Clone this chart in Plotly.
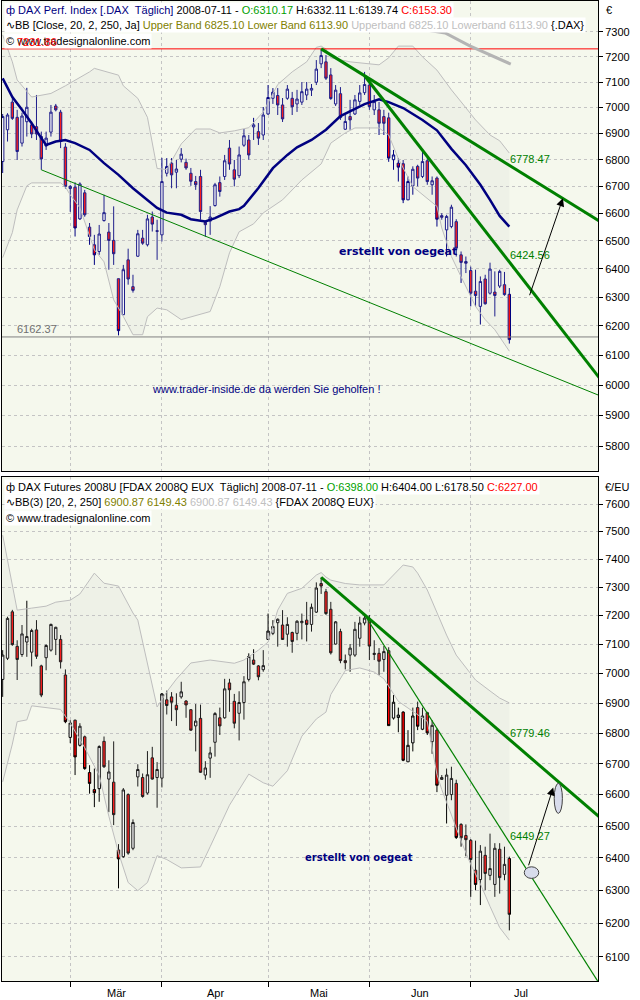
import math
import plotly.graph_objects as go

# ---------------- x axis (trading-day index) ----------------
N = 106
idx = list(range(N))
month_ticks = [14, 33, 55, 76, 97]
month_names = ["Mär", "Apr", "Mai", "Jun", "Jul"]
month_centers = [23.5, 44, 65.5, 86.5, 107.5]

# ---------------- DAX (top panel) ----------------
dax_open = [6793, 6914, 7021, 6962, 6863, 6945, 6933, 6926, 6888, 6852, 6905, 7006, 6982, 6848, 6692, 6697, 6580, 6676, 6550, 6486,
            6462, 6574, 6532, 6502, 6365, 6239, 6432, 6337, 6445, 6510, 6486, 6587, 6537, 6522, 6749, 6787, 6753, 6802, 6790, 6749,
            6718, 6737, 6567, 6572, 6629, 6714, 6737, 6844, 6762, 6740, 6855, 6875, 6925, 6907, 6894, 6975, 7036, 7047, 7010, 7036,
            7036, 7014, 7021, 7049, 7068, 7099, 7172, 7180, 7128, 7014, 7054, 6916, 6965, 6975, 7024, 7058, 7088, 6991, 6991, 6965,
            6960, 6800, 6787, 6785, 6650, 6702, 6775, 6737, 6796, 6706, 6731, 6592, 6540, 6552, 6570, 6450, 6426, 6394, 6321, 6268,
            6364, 6314, 6318, 6339, 6344, 6310.17]
dax_high = [6975, 6978, 7042, 6991, 6980, 7077, 6946, 7049, 6907, 6907, 7010, 7014, 6991, 6863, 6705, 6715, 6715, 6687, 6565, 6522,
            6558, 6669, 6565, 6626, 6365, 6414, 6472, 6379, 6540, 6540, 6595, 6607, 6577, 6807, 6806, 6806, 6799, 6844, 6804, 6769,
            6739, 6762, 6570, 6627, 6713, 6737, 6818, 6875, 6799, 6850, 6917, 6894, 6960, 6940, 7002, 7088, 7076, 7076, 7037, 7088,
            7061, 7069, 7100, 7100, 7092, 7187, 7231.86, 7207, 7155, 7088, 7080, 6971, 7030, 7049, 7088, 7140, 7116, 7049, 7022, 6991,
            6980, 6837, 6806, 6799, 6737, 6775, 6781, 6831, 6806, 6737, 6737, 6601, 6595, 6632, 6579, 6462, 6444, 6408, 6397, 6373,
            6379, 6422, 6391, 6397, 6389, 6332.11]
dax_low = [6750, 6869, 6952, 6799, 6850, 6888, 6882, 6875, 6762, 6837, 6888, 6985, 6844, 6692, 6606, 6516, 6577, 6588, 6486, 6414,
           6450, 6570, 6397, 6414, 6167.82, 6239, 6344, 6316, 6443, 6486, 6480, 6534, 6432, 6498, 6737, 6693, 6693, 6790, 6762, 6702,
           6687, 6577, 6515, 6522, 6625, 6662, 6724, 6762, 6700, 6731, 6849, 6800, 6875, 6856, 6875, 6971, 7014, 6971, 6944, 7030,
           6971, 6983, 7010, 7029, 7045, 7088, 7155, 7108, 7030, 7006, 6952, 6914, 6914, 6971, 7010, 7049, 6991, 6971, 6894, 6894,
           6792, 6762, 6718, 6638, 6650, 6669, 6700, 6731, 6706, 6669, 6552, 6577, 6444, 6546, 6444, 6350, 6385, 6268, 6268, 6205,
           6274, 6309, 6233, 6332, 6305, 6139.74]
dax_close = [6965, 6971, 6958, 6831, 6967, 7001, 6898, 6898, 6803, 6882, 6982, 6991, 6869, 6700, 6700, 6547, 6709, 6595, 6516, 6450,
             6525, 6603, 6502, 6454, 6184, 6397, 6364, 6324, 6526, 6492, 6580, 6561, 6535, 6718, 6774, 6743, 6765, 6821, 6769, 6719,
             6706, 6607, 6559, 6587, 6706, 6681, 6796, 6784, 6727, 6818, 6891, 6818, 6933, 6882, 6971, 7039, 7060, 7010, 6956, 7072,
             7003, 7033, 7062, 7072, 7075, 7151, 7205, 7115, 7035, 7068, 6961, 6946, 6952, 7030, 7057, 7090, 7004, 7023, 6939, 6939,
             6806, 6818, 6772, 6650, 6718, 6764, 6731, 6793, 6718, 6721, 6579, 6586, 6589, 6623, 6474, 6423, 6420, 6314, 6306, 6355,
             6277, 6399, 6306, 6391, 6309, 6153.30]

dax_upper_idx = [0, 2, 3, 6, 10, 13, 18, 19, 24, 25, 28, 30, 32, 34, 37, 40, 43, 45, 48, 51, 54, 57, 60, 63, 65, 66, 67, 68, 72, 78,
                 80, 82, 85, 87, 90, 93, 96, 98, 101, 103, 105]
dax_upper = [7288, 7180, 7108, 7041, 7055, 7085, 7140, 7154, 7127, 7085, 7036, 6962, 6767, 6763, 6860, 6917, 6917, 6902, 6910, 6922,
             6983, 7090, 7140, 7180, 7238, 7243, 7231, 7196, 7180, 7168, 7196, 7243, 7243, 7200, 7147, 7069, 6999, 6952, 6894, 6872,
             6825.10]
dax_lower_idx = [0, 2, 3, 5, 6, 12, 13, 14, 16, 18, 19, 21, 22, 23, 25, 27, 29, 30, 32, 34, 37, 40, 43, 45, 47, 49, 52, 54, 58, 62,
                 66, 68, 71, 73, 78, 80, 82, 85, 88, 90, 91, 93, 95, 98, 100, 102, 105]
dax_lower = [6440, 6530, 6613, 6702, 6713, 6713, 6698, 6668, 6621, 6516, 6468, 6425, 6361, 6291, 6233, 6170, 6170, 6232, 6262, 6256,
             6222, 6236, 6250, 6337, 6457, 6533, 6562, 6602, 6650, 6724, 6784, 6863, 6902, 6921, 6921, 6894, 6804, 6699, 6656, 6626,
             6547, 6444, 6372, 6268, 6222, 6187, 6113.90]
dax_ma_idx = [0, 2, 4, 6, 8, 9, 11, 13, 15, 18, 21, 24, 27, 30, 32, 34, 37, 39, 42, 44, 47, 49, 50, 53, 56, 59, 61, 64, 67, 70,
              73, 75, 78, 80, 83, 86, 87, 90, 93, 96, 99, 101, 103, 105]
dax_ma = [7114, 7041, 6991, 6939, 6882, 6856, 6869, 6875, 6863, 6837, 6787, 6743, 6693, 6650, 6620, 6603, 6595, 6579, 6571, 6583,
          6607, 6616, 6628, 6694, 6768, 6818, 6847, 6875, 6914, 6967, 6993, 7013, 7032, 7021, 6998, 6965, 6952, 6912, 6841, 6779,
          6706, 6650, 6591, 6552]

dax_lineA_idx = [66, 105, 124]
dax_lineA = [7231.86, 6778.47, 6568]
dax_lineB_idx = [75, 105, 124]
dax_lineB = [7124.6, 6424.56, 6017]
dax_support_idx = [8, 124]
dax_support = [6762, 5963]
dax_top_level = 7231.86
dax_bottom_level = 6162.37
dax_gray_idx = [86.5, 91.7, 96.8, 101.0, 105.3]
dax_gray = [7312, 7296, 7244, 7207, 7171]
dax_ticks = list(range(5800, 7301, 100))

# ---------------- FDAX (bottom panel) ----------------
fut_open = [6980, 7052, 7213, 7093, 7065, 7108, 7073, 7150, 7026, 7054, 7080, 7117, 7117, 6995, 6786, 6843, 6760, 6788, 6671, 6616,
            6619, 6773, 6650, 6640, 6425, 6404, 6600, 6430, 6657, 6655, 6605, 6719, 6655, 6653, 6911, 6921, 6893, 6921, 6907, 6878,
            6824, 6849, 6663, 6718, 6770, 6851, 6851, 6968, 6906, 6866, 6902, 6980, 7046, 7026, 7013, 7117, 7138, 7175, 7167, 7135,
            7141, 7138, 7175, 7184, 7169, 7212, 7313, 7284, 7222, 7101, 7144, 7044, 7063, 7063, 7121, 7174, 7187, 7065, 7069, 7048,
            7078, 6850, 6852, 6870, 6706, 6768, 6885, 6813, 6868, 6772, 6810, 6649, 6598, 6600, 6636, 6505, 6470, 6455, 6362, 6333,
            6408, 6346, 6318, 6427, 6349, 6398.00]
fut_high = [7080, 7196, 7220, 7114, 7167, 7252, 7154, 7184, 7030, 7100, 7172, 7161, 7132, 7014, 6843, 6845, 6833, 6792, 6695, 6684,
            6760, 6789, 6711, 6773, 6443, 6621, 6604, 6521, 6698, 6668, 6741, 6755, 6705, 6934, 6942, 6937, 6933, 6972, 6910, 6880,
            6897, 6895, 6708, 6755, 6870, 6885, 6982, 6982, 6931, 6940, 6991, 7069, 7083, 7029, 7080, 7207, 7184, 7190, 7219, 7194,
            7144, 7184, 7207, 7248, 7242, 7317, 7335, 7294, 7248, 7181, 7154, 7065, 7101, 7178, 7196, 7202, 7202, 7114, 7087, 7094,
            7090, 6927, 6885, 6873, 6810, 6885, 6905, 6885, 6871, 6843, 6816, 6663, 6684, 6690, 6648, 6509, 6505, 6459, 6454, 6440,
            6435, 6476, 6446, 6446, 6435, 6404.00]
fut_low = [6921, 7046, 7095, 6978, 7057, 7057, 7024, 7050, 6920, 7011, 7075, 7063, 7017, 6833, 6767, 6663, 6756, 6680, 6603, 6560,
           6577, 6686, 6544, 6503, 6306, 6400, 6410, 6424, 6626, 6590, 6600, 6648, 6558, 6623, 6862, 6840, 6824, 6915, 6851, 6808,
           6740, 6670, 6648, 6654, 6723, 6794, 6848, 6871, 6816, 6776, 6845, 6973, 7029, 6977, 7006, 7115, 7132, 7092, 7115, 7092,
           7071, 7114, 7117, 7110, 7144, 7209, 7276, 7202, 7065, 7099, 7035, 7014, 7006, 7057, 7092, 7166, 7046, 7046, 6995, 7006,
           6825, 6845, 6803, 6708, 6706, 6740, 6810, 6810, 6794, 6732, 6608, 6648, 6508, 6582, 6459, 6435, 6405, 6280, 6300, 6255,
           6300, 6331, 6280, 6290, 6331, 6178.50]
fut_close = [7063, 7190, 7099, 7048, 7136, 7127, 7148, 7059, 6927, 7096, 7169, 7159, 7040, 6838, 6834, 6722, 6823, 6684, 6636, 6606,
             6756, 6690, 6673, 6536, 6397, 6615, 6415, 6511, 6681, 6594, 6664, 6650, 6681, 6931, 6892, 6903, 6878, 6938, 6894, 6810,
             6840, 6672, 6686, 6735, 6865, 6824, 6948, 6945, 6833, 6902, 6972, 7058, 7032, 6989, 7027, 7146, 7162, 7187, 7117, 7169,
             7110, 7180, 7180, 7169, 7229, 7297, 7304, 7207, 7071, 7178, 7044, 7037, 7087, 7152, 7174, 7191, 7094, 7069, 7042, 7075,
             6825, 6903, 6860, 6711, 6760, 6857, 6823, 6857, 6801, 6826, 6630, 6655, 6663, 6652, 6464, 6463, 6457, 6395, 6318, 6421,
             6352, 6367, 6430, 6339, 6380, 6227.00]

fut_upper_idx = [0, 2, 3, 6, 9, 11, 14, 16, 19, 21, 24, 27, 28, 32, 34, 36, 39, 43, 46, 48, 50, 53, 55, 57, 59, 62, 65, 66, 67, 68,
                 71, 74, 79, 81, 83, 85, 86, 88, 90, 92, 94, 96, 98, 101, 103, 105]
fut_upper = [7487, 7311, 7219, 7226, 7233, 7247, 7254, 7276, 7350, 7314, 7304, 7209, 7184, 6887, 6938, 6981, 7036, 7046, 7039, 7035,
             7046, 7080, 7108, 7219, 7278, 7296, 7343, 7352, 7336, 7325, 7313, 7308, 7308, 7343, 7379, 7372, 7350, 7290, 7212, 7132,
             7063, 7019, 6978, 6941, 6917, 6900.87]
fut_lower_idx = [0, 2, 3, 5, 6, 12, 14, 17, 20, 22, 24, 26, 28, 30, 32, 34, 37, 41, 43, 45, 47, 51, 54, 56, 59, 62, 65, 67, 68, 71,
                 74, 77, 79, 82, 88, 90, 91, 93, 95, 97, 99, 101, 103, 105]
fut_lower = [6641, 6764, 6838, 6844, 6891, 6879, 6833, 6752, 6662, 6531, 6416, 6324, 6299, 6324, 6407, 6395, 6369, 6372, 6435, 6498,
             6566, 6666, 6638, 6627, 6677, 6790, 6847, 6870, 6929, 7010, 7019, 7005, 6982, 6906, 6839, 6665, 6616, 6535, 6453, 6380,
             6320, 6251, 6187, 6149.43]

fut_lineA_idx = [66, 105, 124]
fut_lineA = [7335, 6779.46, 6524]
fut_lineB_idx = [75, 105, 124]
fut_lineB = [7203, 6449.27, 6013]
fut_ticks = list(range(6100, 7601, 100))

# ---------------- styling ----------------
NAVY = "#000080"
GREEN = "#008000"
BAND = "#BEBEBE"
BAND_FILL = "rgba(200,200,200,0.15)"
FONT = "Liberation Sans"

fig = go.Figure()


def band(xu, yu, xl, yl, xa, ya):
    fig.add_trace(go.Scatter(x=xu, y=yu, mode="lines", line=dict(color=BAND, width=1),
                             xaxis=xa, yaxis=ya, hoverinfo="skip", showlegend=False))
    fig.add_trace(go.Scatter(x=xl, y=yl, mode="lines", line=dict(color=BAND, width=1),
                             fill="tonexty", fillcolor=BAND_FILL,
                             xaxis=xa, yaxis=ya, hoverinfo="skip", showlegend=False))


def line(x, y, xa, ya, color, width):
    fig.add_trace(go.Scatter(x=x, y=y, mode="lines", line=dict(color=color, width=width),
                             xaxis=xa, yaxis=ya, hoverinfo="skip", showlegend=False))


# top panel
band(dax_upper_idx, dax_upper, dax_lower_idx, dax_lower, "x", "y")
line([-1, 124], [dax_bottom_level] * 2, "x", "y", "#808080", 1)
line([-1, 124], [dax_top_level] * 2, "x", "y", "#FF0000", 1)
line(dax_support_idx, dax_support, "x", "y", GREEN, 1)
fig.add_trace(go.Candlestick(
    x=idx, open=dax_open, high=dax_high, low=dax_low, close=dax_close,
    increasing=dict(fillcolor="#FFFFFF", line=dict(color=NAVY, width=1)),
    decreasing=dict(fillcolor="#FF0000", line=dict(color=NAVY, width=1)),
    whiskerwidth=0, xaxis="x", yaxis="y", hoverinfo="skip", showlegend=False))
line(dax_ma_idx, dax_ma, "x", "y", NAVY, 2.5)
line(dax_lineA_idx, dax_lineA, "x", "y", GREEN, 3)
line(dax_lineB_idx, dax_lineB, "x", "y", GREEN, 3)
line(dax_gray_idx, dax_gray, "x", "y", "#B4B4B4", 3)

# bottom panel
band(fut_upper_idx, fut_upper, fut_lower_idx, fut_lower, "x2", "y2")
fig.add_trace(go.Candlestick(
    x=idx, open=fut_open, high=fut_high, low=fut_low, close=fut_close,
    increasing=dict(fillcolor="#FFFFFF", line=dict(color="#000000", width=1)),
    decreasing=dict(fillcolor="#FF0000", line=dict(color="#000000", width=1)),
    whiskerwidth=0, xaxis="x2", yaxis="y2", hoverinfo="skip", showlegend=False))
line(fut_lineA_idx, fut_lineA, "x2", "y2", GREEN, 3)
line(fut_lineB_idx, fut_lineB, "x2", "y2", GREEN, 1.2)

# ---------------- axes ----------------
L, R, T, B = 2, 42, 1, 19
W, H = 640, 1000
PH = H - T - B


def py(p):  # pixel row -> paper fraction
    return (H - B - p) / PH


def px(p):
    return (p - L) / (W - L - R)


xcommon = dict(range=[-0.145, 123.38], tickmode="array", tickvals=month_ticks, ticktext=[""] * len(month_ticks),
               showgrid=True, gridcolor="#C4C4C4", griddash="dot", gridwidth=1,
               showline=True, mirror=True, linecolor="#000000", linewidth=1, zeroline=False,
               rangeslider=dict(visible=False), fixedrange=True)
ycommon = dict(type="log", side="right", tickmode="array", ticks="outside", ticklen=4, tickcolor="#000000",
               showgrid=True, gridcolor="#C4C4C4", griddash="dot", gridwidth=1,
               showline=True, mirror=True, linecolor="#000000", linewidth=1, zeroline=False,
               tickfont=dict(family=FONT, size=11, color="#000000"), fixedrange=True)

fig.update_layout(
    width=W, height=H, autosize=False,
    margin=dict(l=L, r=R, t=T, b=B),
    paper_bgcolor="#FFFFFF", plot_bgcolor="#F5F8ED",
    font=dict(family=FONT, size=11, color="#000000"),
    showlegend=False,
    xaxis=dict(xcommon, domain=[0, 1], anchor="y", ticks=""),
    xaxis2=dict(xcommon, domain=[0, 1], anchor="y2", ticks="outside", ticklen=5, tickcolor="#000000"),
    yaxis=dict(ycommon, domain=[py(471), 1], anchor="x", range=[3.757407, 3.870800],
               tickvals=dax_ticks, ticktext=[str(v) for v in dax_ticks]),
    yaxis2=dict(ycommon, domain=[0, py(477)], anchor="x2", range=[3.780202, 3.886576],
                tickvals=fut_ticks, ticktext=[str(v) for v in fut_ticks]),
)

lg = math.log10
ann = []


def note(text, x, y, xref, yref, color="#000000", size=11, xanchor="left", bg=None, family=FONT):
    d = dict(text=text, x=x, y=y, xref=xref, yref=yref, showarrow=False, xanchor=xanchor, yanchor="middle",
             font=dict(family=family, size=size, color=color), borderpad=1)
    if bg:
        d["bgcolor"] = bg
    ann.append(d)


def span(c, t):
    return f'<span style="color:{c}">{t}</span>'


NB = "\u00a0"
top1 = (span(NAVY, f"ф DAX Perf. Index [.DAX {NB}Täglich]") + " 2008-07-11 - "
        + span("#00A000", f"O:{dax_open[-1]:.2f}") + f" H:{dax_high[-1]:.2f} L:{dax_low[-1]:.2f} "
        + span("#FF0000", f"C:{dax_close[-1]:.2f}"))
top2 = ("∿BB [Close, 20, 2, 250, Ja] " + span("#808000", f"Upper Band {dax_upper[-1]:.2f} Lower Band {dax_lower[-1]:.2f}")
        + " " + span("#C0C0C0", f"Upperband {dax_upper[-1]:.2f} Lowerband {dax_lower[-1]:.2f}") + " {.DAX}")
bot1 = (f"ф DAX Futures 2008U [FDAX 2008Q EUX {NB}Täglich] 2008-07-11 - "
        + span("#00A000", f"O:{fut_open[-1]:.2f}") + f" H:{fut_high[-1]:.2f} L:{fut_low[-1]:.2f} "
        + span("#FF0000", f"C:{fut_close[-1]:.2f}"))
bot2 = ("∿BB(3) [20, 2, 250] " + span("#808000", f"{fut_upper[-1]:.2f} {fut_lower[-1]:.2f}")
        + " " + span("#C0C0C0", f"{fut_upper[-1]:.2f} {fut_lower[-1]:.2f}") + " {FDAX 2008Q EUX}")

note(top1, px(4), py(10), "paper", "paper", bg="#FFFFFF")
note(top2, px(4), py(25), "paper", "paper", bg="#FFFFFF")
note("© www.tradesignalonline.com", px(4), py(41), "paper", "paper", bg="#FFFFFF")
note(bot1, px(4), py(487), "paper", "paper", bg="#FFFFFF")
note(bot2, px(4), py(502), "paper", "paper", bg="#FFFFFF")
note("© www.tradesignalonline.com", px(4), py(518), "paper", "paper", bg="#FFFFFF")

note(f"{dax_top_level:.2f}", 2.55, lg(7259.6), "x", "y", color="#FF0000")
note(f"{dax_bottom_level:.2f}", 2.55, lg(6189.6), "x", "y", color="#707070")
note(f"{dax_lineA[1]:.2f}", 104.8, lg(6802.7), "x", "y", color=GREEN)
note(f"{dax_lineB[1]:.2f}", 104.8, lg(6449.5), "x", "y", color=GREEN)
note(f"{fut_lineA[1]:.2f}", 104.8, lg(6799.5), "x2", "y2", color=GREEN)
note(f"{fut_lineB[1]:.2f}", 104.8, lg(6468.4), "x2", "y2", color=GREEN)
note("<b>erstellt von oegeat</b>", 82.0, lg(6463.7), "x", "y", color=NAVY, size=11, xanchor="center",
     family="DejaVu Sans")
note("<b>erstellt von oegeat</b>", 73.8, lg(6402.7), "x2", "y2", color=NAVY, size=10, xanchor="center",
     family="DejaVu Sans")
note("www.trader-inside.de da werden Sie geholfen !", 54.6, lg(5986.5), "x", "y", color=NAVY, size=11,
     xanchor="center")

for name, c in zip(month_names, month_centers):
    note(name, c, py(993), "x2", "paper", xanchor="center")
note("€", px(604), py(10), "paper", "paper")
note("€/EU", px(603), py(487), "paper", "paper")

# arrows
ann.append(dict(x=116.1, y=lg(6655.8), ax=109.1, ay=lg(6301.7), xref="x", yref="y", axref="x", ayref="y",
                showarrow=True, arrowhead=2, arrowsize=1.6, arrowwidth=1, arrowcolor="#000000", text=""))
ann.append(dict(x=114.1, y=lg(6623.2), ax=108.9, ay=lg(6372.4), xref="x2", yref="y2", axref="x2", ayref="y2",
                showarrow=True, arrowhead=2, arrowsize=1.6, arrowwidth=1, arrowcolor="#000000", text=""))

shapes = [
    dict(type="circle", xref="x2", yref="y2", x0=108.1, x1=111.1, y0=6336.6, y1=6372.4,
         fillcolor="#D8DCEC", line=dict(color="#404040", width=1)),
    dict(type="circle", xref="x2", yref="y2", x0=114.3, x1=116.0, y0=6540.1, y1=6636.2,
         fillcolor="#D8DCEC", line=dict(color="#404040", width=1)),
]

fig.update_layout(annotations=ann, shapes=shapes)
fig.write_html("out.html", config={"displayModeBar": False, "staticPlot": True},
               post_script="document.body.style.margin='0px';document.body.style.padding='0px';")
